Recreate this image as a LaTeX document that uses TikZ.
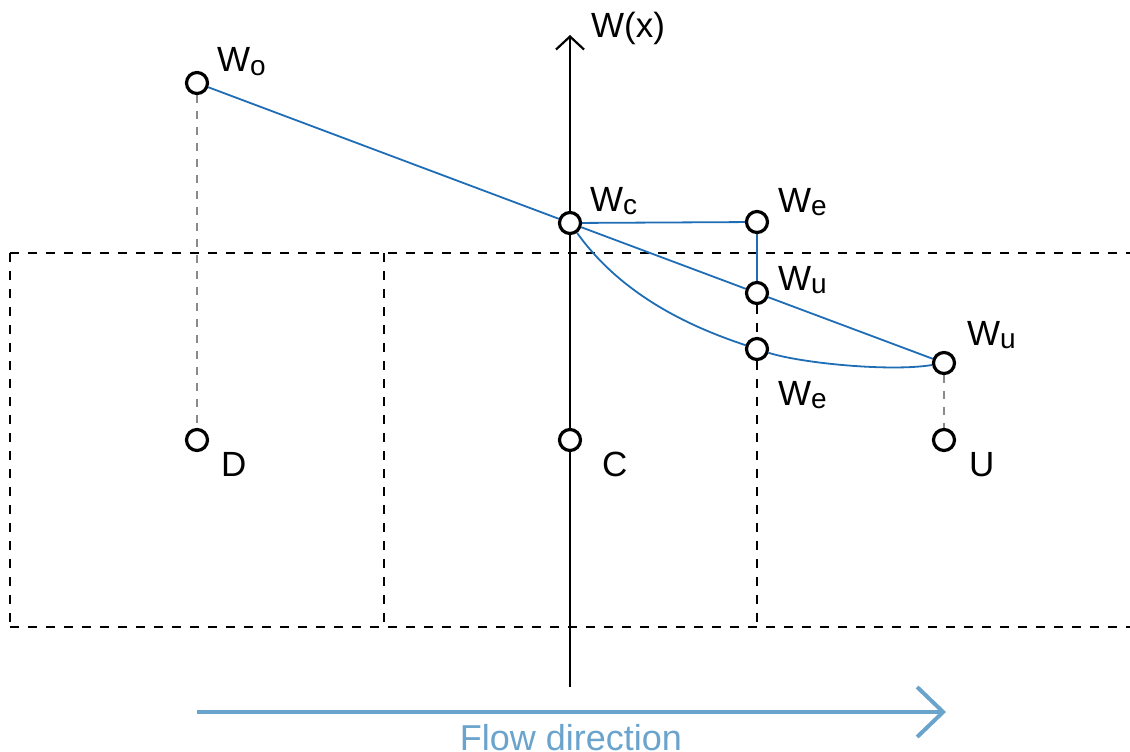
\documentclass[tikz,border=0pt]{standalone}
\usepackage{fontspec}
\setmainfont{Liberation Sans}
\usetikzlibrary{arrows.meta,backgrounds}
\definecolor{lineblue}{HTML}{1F6DB4}
\definecolor{flowblue}{HTML}{6AA4CC}
\definecolor{dgray}{HTML}{8A8A8A}
\newcommand\wsub[1]{W\raisebox{-3pt}{\fontsize{28}{28}\selectfont #1}}
\begin{document}
\begin{tikzpicture}[x=1pt,y=-1pt,
  pt/.style={circle,draw=black,fill=white,line width=3.2pt,minimum size=21pt,inner sep=0pt},
  lbl/.style={anchor=base west,inner sep=0pt,font=\fontsize{35}{35}\selectfont},
  boxdash/.style={draw=black,line width=1.6pt,dash pattern=on 9pt off 9pt},
  graydash/.style={draw=dgray,line width=2pt,dash pattern=on 8pt off 8pt},
  blueline/.style={draw=lineblue,line width=1.8pt},
  axisline/.style={draw=black,line width=2.2pt}]
\useasboundingbox (0,0) rectangle (1130,752);
% points
\node[pt] (Wo) at (197,83) {};
\node[pt] (D) at (197,440) {};
\node[pt] (Wc) at (570,223) {};
\node[pt] (C) at (570,440) {};
\node[pt] (We1) at (757,222) {};
\node[pt] (Wu1) at (757,293) {};
\node[pt] (We2) at (757,349) {};
\node[pt] (Wu2) at (944,363) {};
\node[pt] (U) at (944,440) {};
% coordinates
\coordinate (axb) at (570,687);
\coordinate (axt) at (570,35);
\coordinate (b1) at (10,253);
\coordinate (b2) at (1130,253);
\coordinate (b3) at (10,627);
\coordinate (b4) at (1130,627);
\coordinate (b5) at (384,253);
\coordinate (b6) at (384,627);
\coordinate (b7) at (757,627);
\coordinate (fs) at (197,712);
\coordinate (fe) at (946,712);
% labels
\node[lbl] (lWo) at (217,72) {\wsub{o}};
\node[lbl] (lWx) at (591,38) {W(x)};
\node[lbl] (lWc) at (590,211) {\wsub{c}};
\node[lbl] (lWe1) at (778,212) {\wsub{e}};
\node[lbl] (lWu1) at (778,290) {\wsub{u}};
\node[lbl] (lWe2) at (778,405) {\wsub{e}};
\node[lbl] (lWu2) at (967,345) {\wsub{u}};
\node[lbl] (lD) at (221,476) {D};
\node[lbl] (lC) at (602,476) {C};
\node[lbl] (lU) at (969,476) {U};
\node[anchor=base,inner sep=0pt,font=\fontsize{36}{36}\selectfont,text=flowblue] (flow) at (571,750) {Flow direction};
\begin{scope}[on background layer]
\draw[boxdash] (b1) -- (b2);
\draw[boxdash] (b3) -- (b4);
\draw[boxdash] (b1) -- (b3);
\draw[boxdash] (b5) -- (b6);
\draw[boxdash] (Wu1) -- (We2);
\draw[boxdash] (We2) -- (b7);
\draw[graydash] (Wo) -- (D);
\draw[graydash] (Wu2) -- (U);
\draw[axisline] (axb) -- (C);
\draw[axisline] (C) -- (Wc);
\draw[axisline,-{Straight Barb[length=13pt,width=28pt]}] (Wc) -- (axt);
\draw[blueline] (Wo) -- (Wc);
\draw[blueline] (Wc) -- (We1);
\draw[blueline] (We1) -- (Wu1);
\draw[blueline] (Wc) -- (Wu1);
\draw[blueline] (Wu1) -- (Wu2);
\draw[blueline] (Wc) .. controls (625,300) and (700,330) .. (We2);
\draw[blueline] (We2) .. controls (800,363) and (890,372) .. (Wu2);
\draw[draw=flowblue,line width=4pt,-{Straight Barb[length=26pt,width=50pt]}] (fs) -- (fe);
\end{scope}
\end{tikzpicture}
\end{document}
